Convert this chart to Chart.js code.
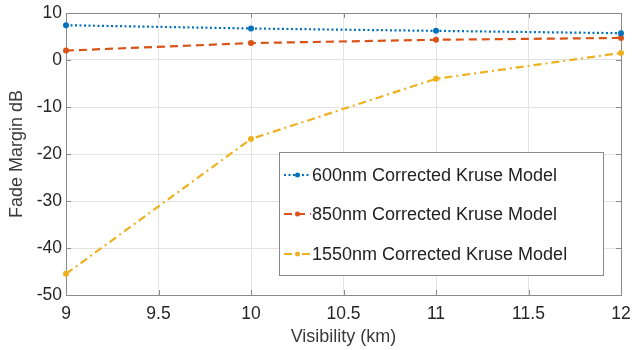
<!DOCTYPE html>
<html><head><meta charset="utf-8">
<script src="https://cdn.jsdelivr.net/npm/chart.js@4/dist/chart.umd.min.js"></script>
<style>html,body{margin:0;padding:0;background:#fff}#c{display:block}</style>
</head><body>
<canvas id="c" width="633" height="350"></canvas>
<script>
const visibility = [9, 10, 11, 12];
const series600 = [7.4, 6.7, 6.2, 5.7];
const series850 = [2.0, 3.6, 4.3, 4.7];
const series1550 = [-45.5, -16.8, -4.0, 1.5];
const labels = ['600nm Corrected Kruse Model', '850nm Corrected Kruse Model', '1550nm Corrected Kruse Model'];
const xTickValues = [9, 9.5, 10, 10.5, 11, 11.5, 12];
const yTickValues = [-50, -40, -30, -20, -10, 0, 10];

const FONT = '"Liberation Sans", Arial, sans-serif';
const colors = ['#0072BD', '#D95319', '#EDB120'];
const dashes = [[2, 2.5], [8, 5], [8, 4, 2, 4]];

function toPts(ys) { return visibility.map((x, i) => ({x, y: ys[i]})); }
const all = [series600, series850, series1550];

const datasets = all.map((ys, i) => ({
  label: labels[i],
  data: toPts(ys),
  borderColor: colors[i],
  backgroundColor: colors[i],
  borderWidth: 2.2,
  borderDash: dashes[i],
  pointRadius: 3,
  pointHoverRadius: 3,
  pointBorderWidth: 0,
  tension: 0,
  fill: false,
  clip: 6
}));

const tickPlugin = {
  id: 'inwardTicks',
  beforeDatasetsDraw(chart) {
    const {ctx, chartArea: a, scales: {x, y}} = chart;
    ctx.save();
    ctx.strokeStyle = '#8a8a8a';
    ctx.lineWidth = 1;
    ctx.beginPath();
    xTickValues.forEach(v => {
      const px = Math.round(x.getPixelForValue(v)) + 0.5;
      ctx.moveTo(px, a.bottom); ctx.lineTo(px, a.bottom - 5);
      ctx.moveTo(px, a.top); ctx.lineTo(px, a.top + 5);
    });
    yTickValues.forEach(v => {
      const py = Math.round(y.getPixelForValue(v)) + 0.5;
      ctx.moveTo(a.left, py); ctx.lineTo(a.left + 5, py);
      ctx.moveTo(a.right, py); ctx.lineTo(a.right - 5, py);
    });
    ctx.stroke();
    ctx.strokeRect(Math.round(a.left) + 0.5, Math.round(a.top) + 0.5, Math.round(a.right - a.left), Math.round(a.bottom - a.top));
    ctx.restore();
  }
};

const legendPlugin = {
  id: 'boxLegend',
  afterDraw(chart) {
    const ctx = chart.ctx;
    const bx = 279, by = 152, bw = 324, bh = 123;
    ctx.save();
    ctx.fillStyle = '#fff';
    ctx.fillRect(bx, by, bw, bh);
    ctx.strokeStyle = '#8a8a8a';
    ctx.lineWidth = 1;
    ctx.strokeRect(bx + 0.5, by + 0.5, bw, bh);
    const rows = [175, 214, 254];
    chart.data.datasets.forEach((ds, i) => {
      const yy = rows[i];
      ctx.strokeStyle = ds.borderColor;
      ctx.lineWidth = 2;
      ctx.setLineDash(ds.borderDash);
      ctx.beginPath(); ctx.moveTo(284, yy); ctx.lineTo(311, yy); ctx.stroke();
      ctx.setLineDash([]);
      ctx.fillStyle = ds.borderColor;
      ctx.beginPath(); ctx.arc(297.5, yy, 2.5, 0, Math.PI * 2); ctx.fill();
      ctx.fillStyle = '#222';
      ctx.font = '18px ' + FONT;
      ctx.textBaseline = 'middle';
      ctx.textAlign = 'left';
      ctx.fillText(ds.label, 312, yy + 1);
    });
    ctx.restore();
  }
};

new Chart(document.getElementById('c'), {
  type: 'line',
  data: {datasets},
  options: {
    responsive: false,
    animation: false,
    layout: {padding: {top: 13, right: 12, left: 0, bottom: 0}},
    plugins: {legend: {display: false}, tooltip: {enabled: false}},
    scales: {
      x: {
        type: 'linear', min: 9, max: 12,
        afterBuildTicks(s) { s.ticks = xTickValues.map(v => ({value: v})); },
        afterFit(s) { s.height = 55; s.paddingLeft = 0; s.paddingRight = 0; },
        grid: {color: '#e3e3e3', drawTicks: false},
        border: {display: false},
        ticks: {color: '#262626', font: {family: FONT, size: 17.5}, padding: 9, maxRotation: 0,
          callback: v => String(v)},
        title: {display: true, text: 'Visibility (km)', color: '#3a3a3a', font: {family: FONT, size: 18}, padding: {top: 0, bottom: 2}}
      },
      y: {
        type: 'linear', min: -50, max: 10,
        afterBuildTicks(s) { s.ticks = yTickValues.map(v => ({value: v})); },
        afterFit(s) { s.width = 66; s.paddingTop = 0; s.paddingBottom = 0; },
        grid: {color: '#e3e3e3', drawTicks: false},
        border: {display: false},
        ticks: {color: '#262626', font: {family: FONT, size: 17.5}, padding: 4,
          callback: v => String(v)},
        title: {display: true, text: 'Fade Margin dB', color: '#3a3a3a', font: {family: FONT, size: 18}, padding: {top: 6, bottom: 0}}
      }
    }
  },
  plugins: [tickPlugin, legendPlugin]
});
</script>
</body></html>
